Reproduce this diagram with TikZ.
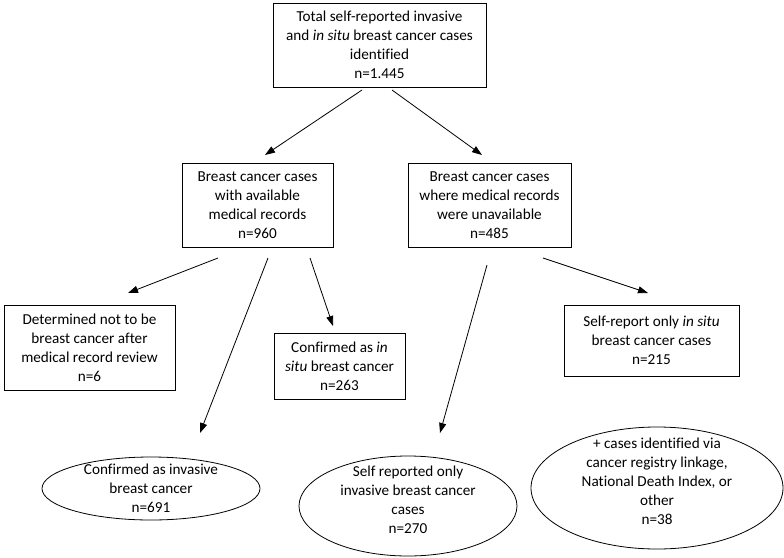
\documentclass[tikz,border=0pt]{standalone}
\usepackage{fontspec}
\setmainfont{Carlito}[Ligatures=NoCommon]
\usetikzlibrary{shapes.geometric,arrows.meta}
\begin{document}
\begin{tikzpicture}[x=1pt,y=-1pt,
  every node/.style={font=\fontsize{15.2}{19}\selectfont, align=center, inner sep=0pt},
  box/.style={draw, line width=0.8pt, rectangle},
  oval/.style={draw, line width=0.8pt, ellipse},
  arr/.style={line width=0.8pt, -{Triangle[length=10pt,width=7pt]}}]
\useasboundingbox (0,0) rectangle (784,557);
% boxes
\node[box, minimum width=213pt, minimum height=84pt] (top) at (379.5,45) {Total self-reported invasive\\and \textit{in situ} breast cancer cases\\identified\\n=1.445};
\node[box, minimum width=151pt, minimum height=84pt] (avail) at (257.5,205) {Breast cancer cases\\with available\\medical records\\n=960};
\node[box, minimum width=163pt, minimum height=84pt] (unavail) at (489.5,205) {Breast cancer cases\\where medical records\\were unavailable\\n=485};
\node[box, minimum width=171pt, minimum height=85pt] (notbc) at (89.5,347.5) {Determined not to be\\breast cancer after\\medical record review\\n=6};
\node[box, minimum width=131pt, minimum height=66pt] (insitu) at (339.5,366) {Confirmed as \textit{in}\\\textit{situ} breast cancer\\n=263};
\node[box, minimum width=175pt, minimum height=71pt] (srinsitu) at (651.5,340.5) {Self-report only \textit{in situ}\\breast cancer cases\\n=215};
% ellipses
\node[oval, minimum width=218pt, minimum height=63pt] (e1) at (151,488.5) {};
\node (e1t) at (151,488) {Confirmed as invasive\\breast cancer\\n=691};
\node[oval, minimum width=218pt, minimum height=100pt] (e2) at (408,506) {};
\node (e2t) at (408,500) {Self reported only\\invasive breast cancer\\cases\\n=270};
\node[oval, minimum width=252pt, minimum height=122pt] (e3) at (657,488) {};
\node (e3t) at (657,481) {+ cases identified via\\cancer registry linkage,\\National Death Index, or\\other\\n=38};
% arrow end points
\coordinate (a1s) at (362,90);  \coordinate (a1e) at (265,155);
\coordinate (a2s) at (392,90);  \coordinate (a2e) at (482,155);
\coordinate (a3s) at (218,258); \coordinate (a3e) at (128,293);
\coordinate (a4s) at (268,258); \coordinate (a4e) at (200,433);
\coordinate (a5s) at (310,258); \coordinate (a5e) at (333,326);
\coordinate (a6s) at (487,265); \coordinate (a6e) at (440,433);
\coordinate (a7s) at (543,258); \coordinate (a7e) at (648,293);
\draw[arr] (a1s) -- (a1e);
\draw[arr] (a2s) -- (a2e);
\draw[arr] (a3s) -- (a3e);
\draw[arr] (a4s) -- (a4e);
\draw[arr] (a5s) -- (a5e);
\draw[arr] (a6s) -- (a6e);
\draw[arr] (a7s) -- (a7e);
\end{tikzpicture}
\end{document}
